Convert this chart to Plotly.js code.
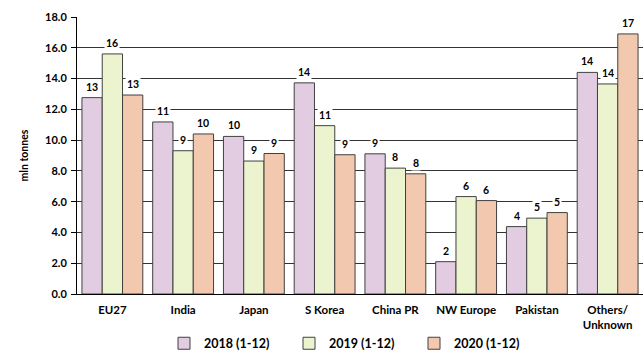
<!DOCTYPE html>
<html>
<head>
<meta charset="utf-8">
<script src="https://cdn.plot.ly/plotly-3.0.1.min.js"></script>
<style>html,body{margin:0;padding:0;background:#fff;}#chart{width:644px;height:352px;}</style>
</head>
<body>
<div id="chart"></div>
<script>
const categories = ["EU27", "India", "Japan", "S Korea", "China PR", "NW Europe", "Pakistan", "Others/<br>Unknown"];
const seriesNames = ["2018 (1-12)", "2019 (1-12)", "2020 (1-12)"];
const values2018 = [12.76, 11.18, 10.24, 13.72, 9.11, 2.10, 4.38, 14.40];
const values2019 = [15.60, 9.31, 8.64, 10.94, 8.18, 6.33, 4.93, 13.65];
const values2020 = [12.93, 10.40, 9.13, 9.05, 7.81, 6.07, 5.29, 16.90];
const yTicks = [0, 2, 4, 6, 8, 10, 12, 14, 16, 18];

const colors = ["#E2CCE2", "#EBF4CF", "#F2C8AE"];
const allSeries = [values2018, values2019, values2020];
const FONT = "Lato, 'Open Sans', sans-serif";

const bargap = 0.14;
const barW = (1 - bargap) / 3;

const traces = allSeries.map((vals, i) => ({
  type: "bar",
  name: seriesNames[i],
  x: categories,
  y: vals,
  marker: {color: colors[i], line: {color: "#404040", width: 1}},
  hoverinfo: "skip"
}));

const annotations = [];
allSeries.forEach((vals, i) => {
  vals.forEach((v, j) => {
    annotations.push({
      xref: "x", yref: "y",
      x: j + (i - 1) * barW,
      y: v,
      yanchor: "bottom",
      yshift: 3,
      text: String(Math.round(v)),
      showarrow: false,
      bgcolor: "#ffffff",
      borderpad: 1,
      font: {family: FONT, size: 10.5, color: "#000", weight: "bold"}
    });
  });
});

const layout = {
  width: 644, height: 352,
  margin: {l: 77, r: 1, t: 17, b: 58, autoexpand: false},
  paper_bgcolor: "#fff", plot_bgcolor: "#fff",
  barmode: "group",
  bargap: bargap,
  bargroupgap: 0,
  showlegend: true,
  legend: {
    orientation: "h", x: 0.485, xanchor: "center", y: -0.125, yanchor: "top",
    entrywidth: 80, entrywidthmode: "pixels",
    tracegroupgap: 0, itemwidth: 30,
    font: {family: FONT, size: 12.5, color: "#000", weight: "bold"}
  },
  xaxis: {
    type: "category", automargin: false,
    showline: true, linecolor: "#000", linewidth: 1,
    ticks: "", showgrid: false, ticklabelstandoff: 5,
    tickfont: {family: FONT, size: 11.5, color: "#000", weight: "bold"},
    range: [-0.5, categories.length - 0.5]
  },
  yaxis: {
    range: [0, 18], automargin: false,
    tickvals: yTicks,
    ticktext: yTicks.map(t => t.toFixed(1)),
    showline: true, linecolor: "#000", linewidth: 1,
    ticks: "outside", ticklen: 5, tickcolor: "#000",
    showgrid: true, gridcolor: "#333", gridwidth: 1,
    zeroline: false, ticklabelstandoff: 2,
    tickfont: {family: FONT, size: 11, color: "#000", weight: "bold"},
    title: {text: "mln tonnes", standoff: 14, font: {family: FONT, size: 10.5, color: "#000", weight: "bold"}}
  },
  annotations: annotations
};

Plotly.newPlot("chart", traces, layout, {displayModeBar: false, staticPlot: true});
</script>
</body>
</html>
